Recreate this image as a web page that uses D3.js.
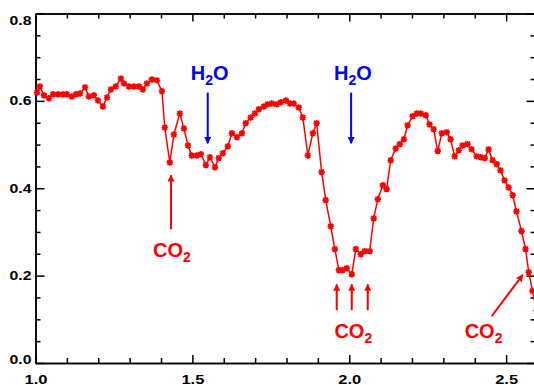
<!DOCTYPE html>
<html>
<head>
<meta charset="utf-8">
<style>
  body { margin: 0; background: #fff; }
  svg { display: block; font-family: "Liberation Sans", Arial, sans-serif; }
  .axis path, .axis line { stroke: #000; stroke-width: 1.5; }
  .axis text { font-size: 12px; font-weight: bold; fill: #000; }
</style>
</head>
<body>
<script src="https://cdn.jsdelivr.net/npm/d3@7"></script>
<script>
// spectrum (wavelength, reflectance)
var wavelength = [1.005, 1.014, 1.027, 1.043, 1.056, 1.072, 1.088, 1.100, 1.116, 1.129,
  1.142, 1.158, 1.170, 1.186, 1.199, 1.215, 1.228, 1.240, 1.256, 1.272,
  1.282, 1.298, 1.314, 1.330, 1.342, 1.355, 1.371, 1.387, 1.403, 1.412,
  1.428, 1.441, 1.460, 1.473, 1.486, 1.498, 1.514, 1.527, 1.543, 1.556,
  1.572, 1.584, 1.597, 1.613, 1.626, 1.642, 1.658, 1.670, 1.686, 1.699,
  1.712, 1.728, 1.740, 1.753, 1.769, 1.782, 1.798, 1.811, 1.823, 1.839,
  1.852, 1.868, 1.884, 1.896, 1.912, 1.925, 1.941, 1.954, 1.967, 1.979,
  1.992, 2.008, 2.021, 2.037, 2.049, 2.065, 2.078, 2.091, 2.107, 2.119,
  2.132, 2.148, 2.161, 2.174, 2.186, 2.202, 2.215, 2.228, 2.244, 2.256,
  2.269, 2.282, 2.295, 2.311, 2.323, 2.336, 2.349, 2.361, 2.377, 2.390,
  2.406, 2.419, 2.432, 2.444, 2.457, 2.470, 2.482, 2.495, 2.508, 2.521,
  2.533, 2.549, 2.562, 2.572, 2.584, 2.597];

var reflectance = [0.619, 0.633, 0.613, 0.606, 0.615, 0.615, 0.615, 0.615, 0.610, 0.615,
  0.617, 0.631, 0.610, 0.613, 0.601, 0.587, 0.608, 0.626, 0.633, 0.651,
  0.640, 0.633, 0.633, 0.633, 0.626, 0.640, 0.649, 0.647, 0.622, 0.539,
  0.459, 0.523, 0.571, 0.537, 0.498, 0.475, 0.475, 0.478, 0.453, 0.471,
  0.448, 0.469, 0.480, 0.496, 0.526, 0.517, 0.526, 0.549, 0.562, 0.571,
  0.581, 0.587, 0.592, 0.594, 0.592, 0.597, 0.601, 0.594, 0.594, 0.585,
  0.562, 0.475, 0.526, 0.549, 0.437, 0.373, 0.313, 0.261, 0.213, 0.213,
  0.217, 0.203, 0.261, 0.249, 0.256, 0.256, 0.331, 0.375, 0.407, 0.398,
  0.464, 0.491, 0.501, 0.512, 0.544, 0.565, 0.571, 0.571, 0.567, 0.546,
  0.535, 0.485, 0.526, 0.528, 0.512, 0.473, 0.487, 0.498, 0.501, 0.489,
  0.473, 0.471, 0.469, 0.489, 0.464, 0.455, 0.441, 0.418, 0.402, 0.384,
  0.347, 0.302, 0.261, 0.208, 0.165, 0.120];

// tick values
var xMajor = [1.0, 1.5, 2.0, 2.5];
var xMinor = [1.1, 1.2, 1.3, 1.4, 1.6, 1.7, 1.8, 1.9, 2.1, 2.2, 2.3, 2.4, 2.6];
var yMajor = [0.0, 0.2, 0.4, 0.6, 0.8];
var yMinor = [0.05, 0.10, 0.15, 0.25, 0.30, 0.35, 0.45, 0.50, 0.55, 0.65, 0.70, 0.75];

// absorption band annotations: arrows [x1, y1, x2, y2], labels [x, y]
var h2oArrows = [[1.549, 0.619, 1.549, 0.503], [2.006, 0.619, 2.006, 0.503]];
var h2oLabels = [[1.555, 0.647], [2.012, 0.647]];
var co2Arrows = [[1.432, 0.306, 1.432, 0.430], [1.960, 0.121, 1.960, 0.180],
  [2.008, 0.121, 2.008, 0.180], [2.059, 0.121, 2.059, 0.180], [2.454, 0.107, 2.553, 0.202]];
var co2Labels = [[1.435, 0.242], [2.013, 0.057], [2.428, 0.057]];

var width = 534, height = 385;
var data = wavelength.map(function(w, i) { return {w: w, r: reflectance[i]}; });

var x = d3.scaleLinear().domain([1.0, 2.6]).range([35.5, 537.5]);
var y = d3.scaleLinear().domain([0, 0.8]).range([363, 13.5]);

var svg = d3.select("body").append("svg")
  .attr("width", width)
  .attr("height", height);

svg.append("rect").attr("width", width).attr("height", height).attr("fill", "#fff");

// arrow heads
var defs = svg.append("defs");
[["red", "#ff0000"], ["blue", "#0000ff"]].forEach(function(c) {
  defs.append("marker")
    .attr("id", "head-" + c[0])
    .attr("markerUnits", "userSpaceOnUse")
    .attr("viewBox", "0 0 10 10")
    .attr("refX", 9).attr("refY", 5)
    .attr("markerWidth", 8).attr("markerHeight", 7)
    .attr("orient", "auto")
    .append("path")
    .attr("d", "M0,0L10,5L0,10z")
    .attr("fill", c[1]);
});

// axes: majors with labels, minors without, all ticks pointing inward
var fmt = d3.format(".1f");

var gx = svg.append("g").attr("class", "axis")
  .attr("transform", "translate(0," + y(0) + ")")
  .call(d3.axisBottom(x).tickValues(xMajor).tickSize(-8).tickSizeOuter(0).tickPadding(12).tickFormat(fmt));
svg.append("g").attr("class", "axis")
  .attr("transform", "translate(0," + y(0) + ")")
  .call(d3.axisBottom(x).tickValues(xMinor).tickSize(-5).tickSizeOuter(0).tickFormat(""));

svg.append("g").attr("class", "axis")
  .attr("transform", "translate(0," + y(0.8) + ")")
  .call(d3.axisTop(x).tickValues(xMajor).tickSize(-8).tickSizeOuter(0).tickFormat(""));
svg.append("g").attr("class", "axis")
  .attr("transform", "translate(0," + y(0.8) + ")")
  .call(d3.axisTop(x).tickValues(xMinor).tickSize(-5).tickSizeOuter(0).tickFormat(""));

var gy = svg.append("g").attr("class", "axis")
  .attr("transform", "translate(" + x(1.0) + ",0)")
  .call(d3.axisLeft(y).tickValues(yMajor).tickSize(-9).tickSizeOuter(0).tickPadding(4).tickFormat(fmt));
svg.append("g").attr("class", "axis")
  .attr("transform", "translate(" + x(1.0) + ",0)")
  .call(d3.axisLeft(y).tickValues(yMinor).tickSize(-5).tickSizeOuter(0).tickFormat(""));

svg.append("g").attr("class", "axis")
  .attr("transform", "translate(" + x(2.6) + ",0)")
  .call(d3.axisRight(y).tickValues(yMajor).tickSize(-11).tickSizeOuter(0).tickFormat(""));
svg.append("g").attr("class", "axis")
  .attr("transform", "translate(" + x(2.6) + ",0)")
  .call(d3.axisRight(y).tickValues(yMinor).tickSize(-7).tickSizeOuter(0).tickFormat(""));

// wide plotter-style digits
gx.selectAll("text").attr("textLength", 23).attr("lengthAdjust", "spacingAndGlyphs");
gy.selectAll("text").attr("textLength", 22).attr("lengthAdjust", "spacingAndGlyphs")
  .attr("y", function(d) { return d === 0.8 ? 7 : (d === 0 ? -3 : 0); });

// spectrum line + asterisk markers
var line = d3.line().x(function(d) { return x(d.w); }).y(function(d) { return y(d.r); });

svg.append("path")
  .datum(data)
  .attr("fill", "none")
  .attr("stroke", "#ff0000")
  .attr("stroke-width", 1.5)
  .attr("d", line);

var star = "M-3.2,0H3.2M0,-3.2V3.2M-2.4,-2.4L2.4,2.4M-2.4,2.4L2.4,-2.4";
svg.selectAll(".pt")
  .data(data)
  .enter().append("path")
  .attr("class", "pt")
  .attr("transform", function(d) { return "translate(" + x(d.w) + "," + y(d.r) + ")"; })
  .attr("d", star)
  .attr("stroke", "#ff0000")
  .attr("stroke-width", 1.7)
  .attr("fill", "none");

// annotations
function arrows(list, color, name) {
  svg.selectAll(".arrow-" + name)
    .data(list)
    .enter().append("line")
    .attr("class", "arrow-" + name)
    .attr("x1", function(d) { return x(d[0]); })
    .attr("y1", function(d) { return y(d[1]); })
    .attr("x2", function(d) { return x(d[2]); })
    .attr("y2", function(d) { return y(d[3]); })
    .attr("stroke", color)
    .attr("stroke-width", 2)
    .attr("marker-end", "url(#head-" + name + ")");
}

function labels(list, color, first, last) {
  var t = svg.selectAll(null)
    .data(list)
    .enter().append("text")
    .attr("x", function(d) { return x(d[0]); })
    .attr("y", function(d) { return y(d[1]); })
    .attr("text-anchor", "middle")
    .attr("fill", color)
    .attr("font-size", 20)
    .attr("font-weight", "bold");
  t.append("tspan").text(first);
  t.append("tspan").attr("font-size", 14).attr("dy", 5).text("2");
  if (last) t.append("tspan").attr("dy", -5).text(last);
}

arrows(h2oArrows, "#0000ff", "blue");
arrows(co2Arrows, "#ff0000", "red");
labels(h2oLabels, "#0000ff", "H", "O");
labels(co2Labels, "#ff0000", "CO", "");
</script>
</body>
</html>
